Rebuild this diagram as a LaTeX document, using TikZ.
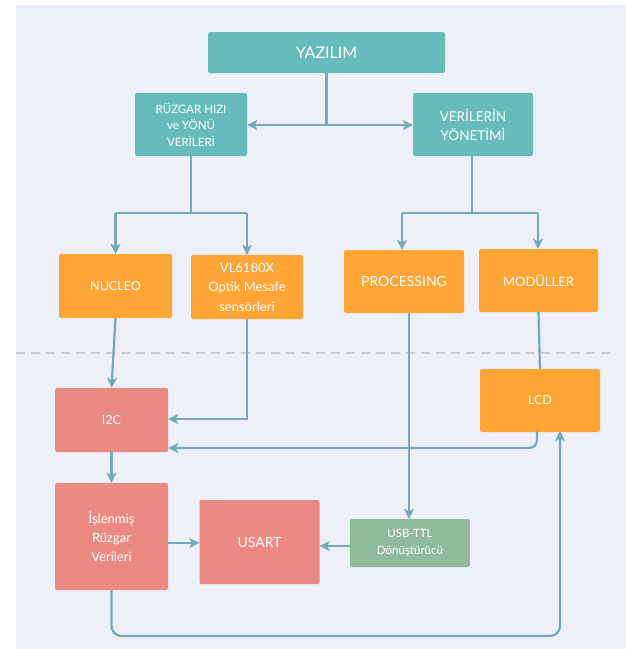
\documentclass[tikz,border=0pt]{standalone}
\usepackage{fontspec}
\setmainfont{Lato}
\usetikzlibrary{arrows.meta}
\definecolor{bgc}{HTML}{EDF0F9}
\definecolor{tealc}{HTML}{66BCB9}
\definecolor{orangec}{HTML}{FFA535}
\definecolor{salmonc}{HTML}{EA8A80}
\definecolor{greenc}{HTML}{8FBB9A}
\definecolor{arrc}{HTML}{74A9BC}
\definecolor{dashc}{HTML}{CCCCCC}
\tikzset{
  box/.style={rounded corners=2pt, text=white, align=center, inner sep=0pt},
  tbox/.style={box, fill=tealc},
  obox/.style={box, fill=orangec},
  sbox/.style={box, fill=salmonc},
  gbox/.style={box, fill=greenc},
  conn/.style={draw=arrc, line width=2.2pt},
  arr/.style={conn, -{Stealth[length=10pt,width=10pt,inset=2.5pt]}},
}
\begin{document}
\begin{tikzpicture}[x=1pt,y=-1pt]
\useasboundingbox (0,0) rectangle (629,649);
\fill[bgc] (16,5) rectangle (626,649);
\draw[dashc, line width=2pt, dash pattern=on 9pt off 6pt] (16,353) -- (614,353);

% nodes
\node[tbox, minimum width=237pt, minimum height=41pt, font=\fontsize{16}{18}\selectfont] (yaz) at (326.5,52.5) {YAZILIM};
\node[tbox, minimum width=112pt, minimum height=63pt, font=\fontsize{11.5}{16.5}\selectfont] (ruz) at (191,124.5) {RÜZGAR HIZI\\ve YÖNÜ\\VERİLERİ};
\node[tbox, minimum width=120pt, minimum height=63pt, font=\fontsize{13.5}{19}\selectfont] (ver) at (473,124.5) {VERİLERİN\\YÖNETİMİ};
\node[obox, minimum width=113pt, minimum height=64pt, font=\fontsize{12.5}{15}\selectfont] (nuc) at (115.5,286) {NUCLEO};
\node[obox, minimum width=112pt, minimum height=64pt, font=\fontsize{13}{19.5}\selectfont] (vl) at (247,287) {VL6180X\\Optik Mesafe\\sensörleri};
\node[obox, minimum width=120pt, minimum height=63pt, font=\fontsize{14}{16}\selectfont] (proc) at (404,281.5) {PROCESSING};
\node[obox, minimum width=119pt, minimum height=63pt, font=\fontsize{13}{16}\selectfont] (mod) at (538.5,280.5) {MODÜLLER};
\node[sbox, minimum width=113pt, minimum height=64pt, font=\fontsize{12.5}{15}\selectfont] (i2c) at (111.5,420) {I2C};
\node[obox, minimum width=120pt, minimum height=63pt, font=\fontsize{12.5}{15}\selectfont] (lcd) at (540,400.5) {LCD};
\node[sbox, minimum width=113pt, minimum height=107pt, font=\fontsize{13}{19}\selectfont] (isl) at (111.5,536.5) {İşlenmiş\\Rüzgar\\Verileri};
\node[sbox, minimum width=120pt, minimum height=84pt, font=\fontsize{14}{16}\selectfont] (usart) at (259.5,542) {USART};
\node[gbox, minimum width=120pt, minimum height=48pt, font=\fontsize{11.5}{17}\selectfont] (usb) at (410,543) {USB-TTL\\Dönüştürücü};

% helper coordinates
\coordinate (yj) at (326.5,125);
\coordinate (lj) at (191,213);
\coordinate (ll) at (115.5,213);
\coordinate (lr) at (247,213);
\coordinate (rj) at (472,213);
\coordinate (rl) at (402,213);
\coordinate (rr) at (538,213);
\coordinate (vlc) at (247,419);
\coordinate (procb) at (409,313);
\coordinate (lcdb) at (537,431);
\coordinate (lcdc) at (537,448);
\coordinate (islc) at (111.5,636);
\coordinate (lcdr) at (560,636);
\coordinate (lcdt) at (560,431);
\coordinate (y543) at (0,543);
\coordinate (y546) at (0,546);

% connectors
\draw[conn] (yaz.south) -- (yj);
\draw[arr] (yj) -- (ruz.east |- yj);
\draw[arr] (yj) -- (ver.west |- yj);

\draw[conn] (ruz.south) -- (lj);
\draw[conn] (ll) -- (lr);
\draw[arr] (ll) -- (nuc.north);
\draw[arr] (lr) -- (vl.north);

\draw[conn] (ver.south -| rj) -- (rj);
\draw[conn] (rl) -- (rr);
\draw[arr] (rl) -- (rl |- proc.north);
\draw[arr] (rr) -- (rr |- mod.north);

\draw[arr] (nuc.south) -- (i2c.north);
\draw[arr] (vl.south) -- (vlc) -- (i2c.east |- vlc);
\draw[conn] (mod.south) -- (lcd.north);
\draw[arr] (procb) -- (procb |- usb.north);
\draw[arr, rounded corners=8pt] (lcdb) -- (lcdc) -- (i2c.east |- lcdc);
\draw[arr] (i2c.south) -- (isl.north);
\draw[arr] (isl.east |- y543) -- (usart.west |- y543);
\draw[arr] (usb.west |- y546) -- (usart.east |- y546);
\draw[arr, rounded corners=10pt] (isl.south) -- (islc) -- (lcdr) -- (lcdt);
\end{tikzpicture}
\end{document}
